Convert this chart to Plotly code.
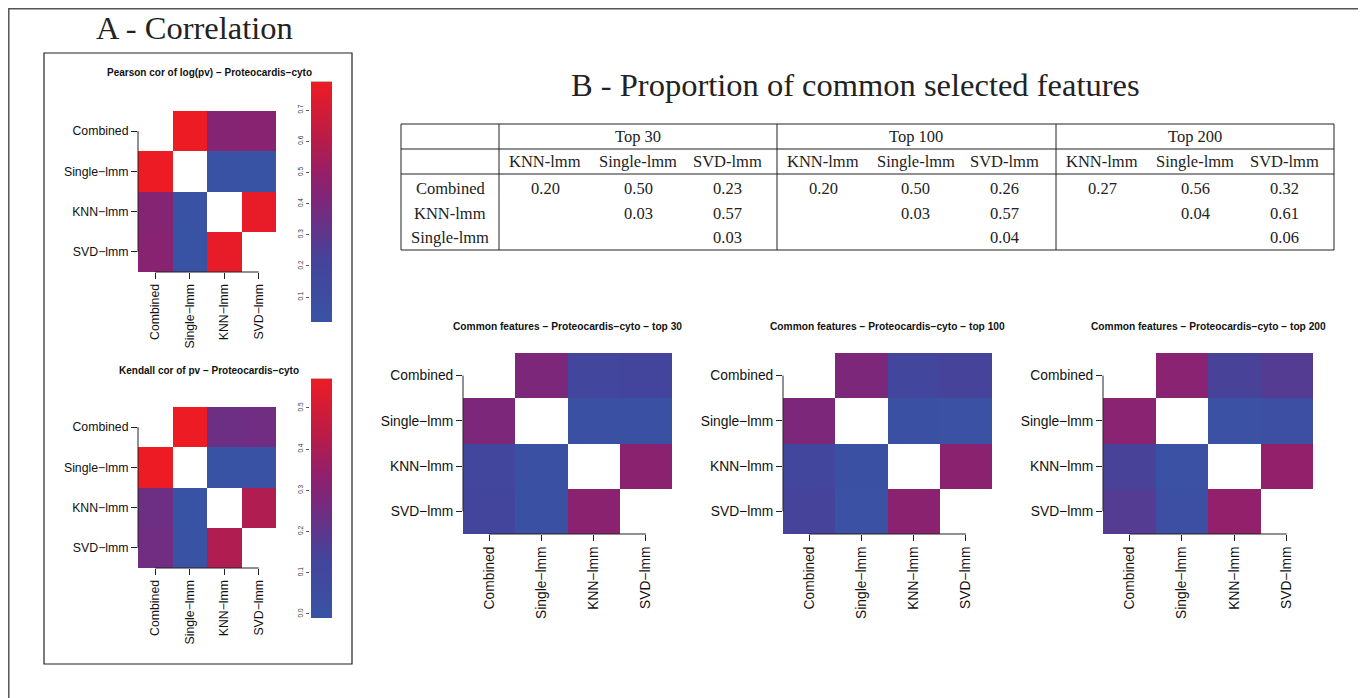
import plotly.graph_objects as go

# page body adds an 8px margin; the figure is sized/positioned to compensate
OX, OY = 8, 8
W, H = 1366 - OX, 698 - OY

# ---------------- data ----------------
methods = ["Combined", "Single-lmm", "KNN-lmm", "SVD-lmm"]
tick_labels = ["Combined", "Single\u2212lmm", "KNN\u2212lmm", "SVD\u2212lmm"]

# table layout (rows x cols) used for every pairwise set of values
table_rows = ["Combined", "KNN-lmm", "Single-lmm"]
table_cols = ["KNN-lmm", "Single-lmm", "SVD-lmm"]
table_tops = ["Top 30", "Top 100", "Top 200"]

pearson = [[0.44, 0.79, 0.45], [None, 0.03, 0.77], [None, None, 0.02]]
kendall = [[0.24, 0.57, 0.25], [None, -0.01, 0.41], [None, None, 0.00]]
pearson_ticks = [0.1, 0.2, 0.3, 0.4, 0.5, 0.6, 0.7]
kendall_ticks = [0.0, 0.1, 0.2, 0.3, 0.4, 0.5]

top30 = [[0.20, 0.50, 0.23], [None, 0.03, 0.57], [None, None, 0.03]]
top100 = [[0.20, 0.50, 0.26], [None, 0.03, 0.57], [None, None, 0.04]]
top200 = [[0.27, 0.56, 0.32], [None, 0.04, 0.61], [None, None, 0.06]]

colorscale = [
    [0.0, "rgb(57,83,164)"],
    [0.25, "rgb(68,68,155)"],
    [0.5, "rgb(124,39,122)"],
    [0.6, "rgb(145,32,108)"],
    [0.75, "rgb(182,28,74)"],
    [1.0, "rgb(237,28,36)"],
]

SANS = "Liberation Sans, Arial, sans-serif"
SERIF = "Liberation Serif, Times New Roman, serif"
INK = "#222222"


def to_matrix(tbl):
    n = len(methods)
    m = [[None] * n for _ in range(n)]
    for r, rn in enumerate(table_rows):
        for c, cn in enumerate(table_cols):
            v = tbl[r][c]
            if v is None:
                continue
            i, j = methods.index(rn), methods.index(cn)
            m[i][j] = v
            m[j][i] = v
    return m


def flat(tbl):
    return [v for row in tbl for v in row if v is not None]


def px(x):
    return (x - OX) / W


def py(y):
    return 1 - (y - OY) / H


def xd(a, b):
    return [px(a), px(b)]


def yd(top, bottom):
    return [py(bottom), py(top)]


fig = go.Figure()

panels = [
    dict(tbl=pearson, xdom=xd(138, 276), ydom=yd(111, 272), fs=12.3,
         cb=(82, 322), ticks=pearson_ticks, zr=None,
         title="Pearson cor of log(pv) \u2212 Proteocardis\u2212cyto", tpos=(209, 73), tfs=10),
    dict(tbl=kendall, xdom=xd(138, 276), ydom=yd(407, 568), fs=12.3,
         cb=(379, 618), ticks=kendall_ticks, zr=None,
         title="Kendall cor of pv \u2212 Proteocardis\u2212cyto", tpos=(209, 370), tfs=10),
    dict(tbl=top30, xdom=xd(463, 672), ydom=yd(353, 534), fs=13.8, cb=None, zr=(0, 1),
         title="Common features \u2212 Proteocardis\u2212cyto \u2212 top 30", tpos=(567, 326), tfs=10.2),
    dict(tbl=top100, xdom=xd(783, 992), ydom=yd(353, 534), fs=13.8, cb=None, zr=(0, 1),
         title="Common features \u2212 Proteocardis\u2212cyto \u2212 top 100", tpos=(887.5, 326), tfs=10.2),
    dict(tbl=top200, xdom=xd(1103, 1313), ydom=yd(353, 534), fs=13.8, cb=None, zr=(0, 1),
         title="Common features \u2212 Proteocardis\u2212cyto \u2212 top 200", tpos=(1208, 326), tfs=10.2),
]

shapes = []
annotations = []
layout_axes = {}
extra = len(panels)

for k, p in enumerate(panels):
    i = k + 1
    xs = "" if i == 1 else str(i)
    z = to_matrix(p["tbl"])
    vals = flat(p["tbl"])
    hm = dict(
        z=z, x=list(range(len(methods))), y=list(range(len(methods))),
        colorscale=colorscale, xaxis="x" + xs, yaxis="y" + xs,
        hoverongaps=False,
    )
    if p["zr"] is not None:
        hm.update(zmin=p["zr"][0], zmax=p["zr"][1], showscale=False)
    else:
        top, bot = p["cb"]
        hm.update(zmin=min(vals), zmax=max(vals), showscale=True,
                  colorbar=dict(
                      x=px(311), xanchor="left",
                      y=py((top + bot) / 2), yanchor="middle",
                      len=(bot - top) / H, lenmode="fraction",
                      thickness=21, thicknessmode="pixels", outlinewidth=0,
                      showticklabels=False, ticks="", xpad=0, ypad=0))
    fig.add_trace(go.Heatmap(**hm))

    axcommon = dict(showgrid=False, zeroline=False, showline=False,
                    ticks="outside", ticklen=6, tickwidth=1, tickcolor=INK,
                    tickvals=list(range(len(methods))), ticktext=tick_labels,
                    tickfont=dict(family=SANS, size=p["fs"], color="#111"),
                    fixedrange=True)
    layout_axes["xaxis" + xs] = dict(domain=p["xdom"], range=[-0.5, len(methods) - 0.5],
                                     anchor="y" + xs, tickangle=-90, **axcommon)
    layout_axes["yaxis" + xs] = dict(domain=p["ydom"], range=[len(methods) - 0.5, -0.5],
                                     anchor="x" + xs, **axcommon)
    # R-style axis lines spanning first to last tick
    shapes.append(dict(type="line", xref="x" + xs, yref="y" + xs + " domain",
                       x0=0, x1=len(methods) - 1, y0=0, y1=0,
                       line=dict(color=INK, width=1)))
    shapes.append(dict(type="line", xref="x" + xs + " domain", yref="y" + xs,
                       x0=0, x1=0, y0=0, y1=len(methods) - 1,
                       line=dict(color=INK, width=1)))
    annotations.append(dict(text="<b>" + p["title"] + "</b>", x=px(p["tpos"][0]), y=py(p["tpos"][1]),
                            xref="paper", yref="paper", showarrow=False,
                            xanchor="center", yanchor="middle",
                            font=dict(family=SANS, size=p["tfs"], color="#111")))

    if p["cb"] is not None:
        extra += 1
        es = str(extra)
        # colour-bar tick labels on the left of the bar (R image.plot style)
        fig.add_trace(go.Scatter(x=[], y=[], xaxis="x" + es, yaxis="y" + es,
                                 hoverinfo="skip", showlegend=False))
        layout_axes["xaxis" + es] = dict(domain=xd(310, 311), anchor="y" + es, visible=False,
                                         range=[0, 1], fixedrange=True)
        layout_axes["yaxis" + es] = dict(domain=yd(p["cb"][0], p["cb"][1]), anchor="x" + es,
                                         range=[min(vals), max(vals)], side="left",
                                         tickvals=p["ticks"], ticktext=[f"{t:.1f}" for t in p["ticks"]],
                                         tickangle=-90, ticks="outside", ticklen=3, tickwidth=1,
                                         tickcolor="#555", showgrid=False, zeroline=False,
                                         showline=False, fixedrange=True,
                                         tickfont=dict(family=SANS, size=6.5, color="#333"))
        # thin grey cap at the top of the colour bar
        shapes.append(dict(type="line", xref="paper", yref="paper", x0=px(311), x1=px(332),
                           y0=py(p["cb"][0]), y1=py(p["cb"][0]),
                           line=dict(color="#777", width=1)))

# ---------------- table ----------------
tx0, tx1 = 401, 1334
ty = [124, 149, 174, 250]
group_x = [499, 777, 1056, 1334]
col_offsets = [46, 139, 228]
row_y = [188, 213, 238]
label_cx = 450
tables = [top30, top100, top200]

shapes.append(dict(type="rect", xref="paper", yref="paper", x0=px(tx0), x1=px(tx1),
                   y0=py(ty[3]), y1=py(ty[0]), line=dict(color=INK, width=1)))
for yy in ty[1:3]:
    shapes.append(dict(type="line", xref="paper", yref="paper", x0=px(tx0), x1=px(tx1),
                       y0=py(yy), y1=py(yy), line=dict(color=INK, width=1)))
for gx in group_x[:3]:
    shapes.append(dict(type="line", xref="paper", yref="paper", x0=px(gx), x1=px(gx),
                       y0=py(ty[3]), y1=py(ty[0]), line=dict(color=INK, width=1)))


def tann(text, x, y, size=16.5):
    annotations.append(dict(text=text, x=px(x), y=py(y), xref="paper", yref="paper",
                            showarrow=False, xanchor="center", yanchor="middle",
                            font=dict(family=SERIF, size=size, color=INK)))


for g, top in enumerate(table_tops):
    tann(top, (group_x[g] + group_x[g + 1]) / 2, 136)
    for c, cn in enumerate(table_cols):
        cx = group_x[g] + col_offsets[c]
        tann(cn, cx, 162)
        for r in range(len(table_rows)):
            v = tables[g][r][c]
            if v is not None:
                tann(f"{v:.2f}", cx, row_y[r])
for r, rn in enumerate(table_rows):
    tann(rn, label_cx, row_y[r])

# ---------------- panel titles & frames ----------------
tann("A - Correlation", 194, 28, size=32.5)
tann("B - Proportion of common selected features", 855, 85, size=32.5)

shapes.append(dict(type="rect", xref="paper", yref="paper", x0=px(8.8), x1=px(1365),
                   y0=py(720), y1=py(8.8), line=dict(color="#555555", width=1.5)))
shapes.append(dict(type="rect", xref="paper", yref="paper", x0=px(44), x1=px(352),
                   y0=py(664), y1=py(53), line=dict(color=INK, width=1.2)))

fig.update_layout(
    width=W, height=H, margin=dict(l=0, r=0, t=0, b=0),
    paper_bgcolor="white", plot_bgcolor="rgba(0,0,0,0)",
    showlegend=False, shapes=shapes, annotations=annotations,
    **layout_axes,
)

fig.write_html("out.html")
